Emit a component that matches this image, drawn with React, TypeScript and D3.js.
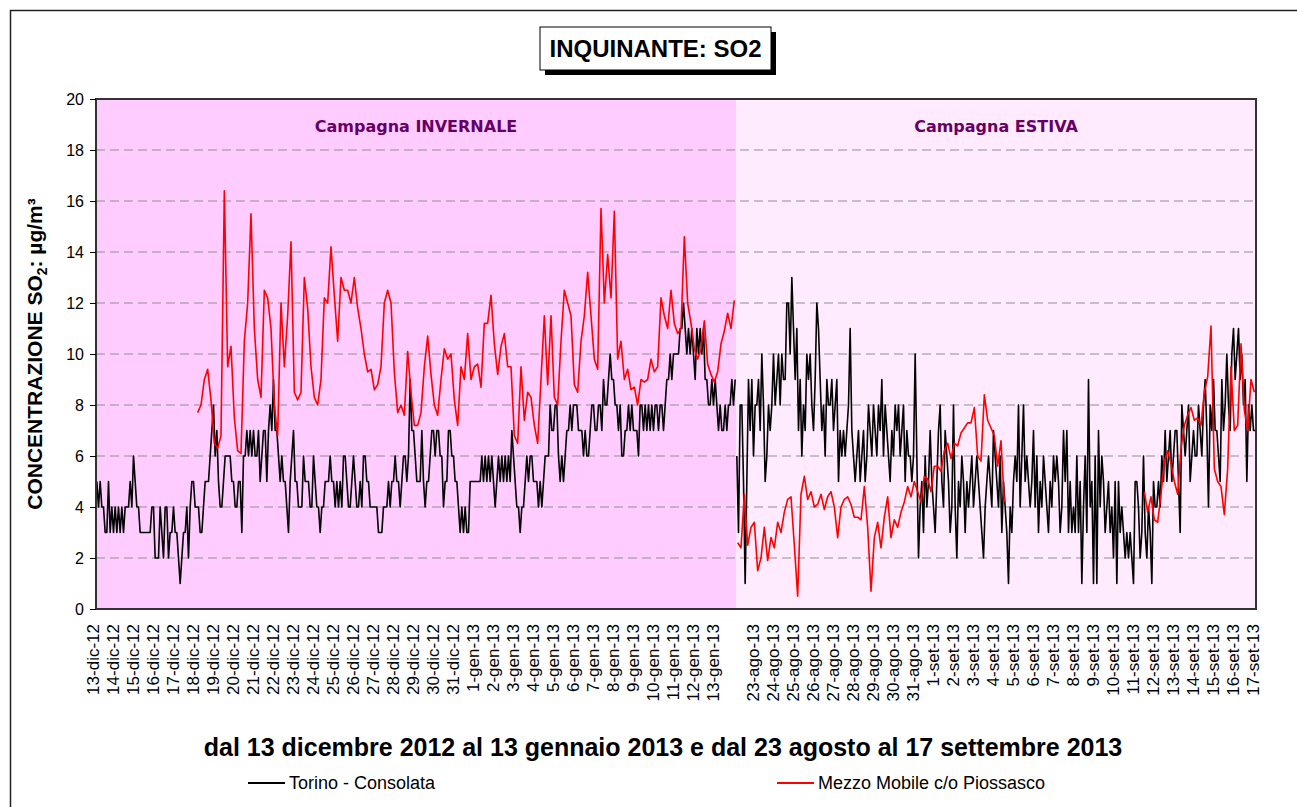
import React, { useEffect, useRef } from "react";
import * as d3 from "d3";

// etichette dei giorni (asse categorie)
const giorniInverno = [
  "13-dic-12", "14-dic-12", "15-dic-12", "16-dic-12", "17-dic-12", "18-dic-12", "19-dic-12",
  "20-dic-12", "21-dic-12", "22-dic-12", "23-dic-12", "24-dic-12", "25-dic-12", "26-dic-12",
  "27-dic-12", "28-dic-12", "29-dic-12", "30-dic-12", "31-dic-12", "1-gen-13", "2-gen-13",
  "3-gen-13", "4-gen-13", "5-gen-13", "6-gen-13", "7-gen-13", "8-gen-13", "9-gen-13",
  "10-gen-13", "11-gen-13", "12-gen-13", "13-gen-13",
];
const giorniEstate = [
  "23-ago-13", "24-ago-13", "25-ago-13", "26-ago-13", "27-ago-13", "28-ago-13", "29-ago-13",
  "30-ago-13", "31-ago-13", "1-set-13", "2-set-13", "3-set-13", "4-set-13", "5-set-13",
  "6-set-13", "7-set-13", "8-set-13", "9-set-13", "10-set-13", "11-set-13", "12-set-13",
  "13-set-13", "14-set-13", "15-set-13", "16-set-13", "17-set-13",
];
const yTicks = [0, 2, 4, 6, 8, 10, 12, 14, 16, 18, 20];

// Torino - Consolata: valori letti ogni 2 ore (12 per giorno)
const torinoInverno = [
  5, 4, 5, 4, 4, 3, 3, 5, 3, 4, 3, 4,
  3, 4, 3, 4, 3, 4, 4, 4, 5, 4, 6, 5,
  4, 4, 3, 3, 3, 3, 3, 3, 3, 4, 4, 2,
  2, 2, 4, 3, 2, 4, 4, 2, 3, 3, 4, 3,
  3, 2, 1, 2, 3, 3, 4, 2, 4, 5, 5, 4,
  4, 4, 3, 3, 4, 5, 5, 5, 6, 7, 8, 6,
  7, 5, 4, 4, 5, 6, 6, 6, 6, 5, 5, 4,
  4, 5, 5, 3, 6, 6, 7, 6, 7, 6, 7, 6,
  6, 7, 5, 6, 7, 7, 5, 7, 8, 7, 9, 7,
  7, 6, 5, 6, 5, 5, 4, 3, 5, 6, 7, 5,
  5, 4, 4, 4, 6, 5, 5, 5, 4, 4, 6, 5,
  4, 4, 3, 4, 4, 5, 5, 5, 6, 5, 5, 4,
  5, 4, 5, 4, 6, 6, 5, 4, 4, 5, 6, 5,
  4, 4, 5, 4, 6, 6, 5, 5, 4, 4, 4, 4,
  4, 3, 3, 3, 4, 4, 4, 5, 4, 5, 5, 6,
  5, 5, 4, 5, 6, 6, 5, 6, 9, 7, 7, 6,
  5, 5, 5, 7, 5, 4, 5, 5, 6, 7, 7, 6,
  7, 7, 6, 6, 4, 5, 5, 7, 7, 6, 6, 5,
  5, 4, 3, 4, 3, 4, 3, 3, 5, 5, 5, 5,
  5, 5, 5, 6, 5, 6, 5, 6, 5, 6, 5, 4,
  5, 6, 5, 6, 5, 6, 5, 6, 5, 7, 6, 5,
  4, 4, 3, 4, 4, 5, 6, 5, 6, 6, 5, 5,
  5, 4, 5, 4, 5, 6, 6, 6, 8, 7, 7, 8,
  8, 6, 5, 6, 5, 6, 7, 7, 8, 7, 8, 8,
  8, 7, 7, 7, 6, 7, 6, 6, 7, 8, 8, 7,
  7, 8, 8, 7, 9, 8, 8, 9, 10, 9, 9, 8,
  8, 7, 8, 6, 6, 7, 7, 8, 7, 8, 7, 7,
  7, 6, 8, 8, 7, 8, 7, 8, 7, 8, 7, 8,
  8, 7, 8, 8, 7, 8, 9, 9, 10, 9, 10, 10,
  10, 10, 11, 11, 12, 11, 10, 11, 10, 11, 10, 9,
  11, 10, 11, 10, 11, 9, 9, 8, 8, 9, 8, 9,
  8, 7, 8, 7, 7, 8, 7, 8, 8, 9, 8, 9,
];
const torinoEstate = [
  6, 3, 8, 8, 5, 1, 5, 9, 7, 9, 6, 8,
  8, 9, 7, 10, 8, 5, 6, 8, 7, 8, 10, 8,
  9, 10, 8, 10, 9, 9, 12, 12, 10, 13, 11, 9,
  11, 7, 9, 6, 8, 7, 10, 9, 10, 8, 7, 9,
  12, 11, 9, 7, 8, 6, 9, 8, 8, 9, 7, 8,
  9, 5, 7, 6, 7, 6, 7, 8, 11, 7, 6, 5,
  6, 7, 5, 6, 7, 5, 6, 8, 7, 6, 8, 7,
  6, 8, 7, 9, 6, 8, 7, 6, 5, 7, 6, 8,
  7, 8, 6, 7, 8, 5, 7, 6, 6, 5, 6, 10,
  6, 2, 4, 5, 3, 6, 4, 5, 7, 5, 4, 3,
  5, 7, 8, 5, 4, 7, 6, 5, 3, 4, 8, 4,
  2, 5, 4, 6, 5, 3, 5, 4, 5, 6, 4, 5,
  6, 5, 4, 3, 2, 4, 5, 6, 5, 4, 7, 6,
  5, 4, 6, 3, 5, 4, 3, 1, 4, 3, 5, 6,
  5, 8, 4, 6, 8, 5, 6, 5, 4, 5, 7, 4,
  6, 3, 5, 4, 6, 5, 4, 3, 5, 4, 6, 5,
  6, 5, 3, 4, 7, 5, 7, 3, 5, 3, 4, 3,
  6, 3, 5, 1, 4, 6, 3, 9, 4, 5, 1, 6,
  1, 7, 4, 6, 5, 3, 4, 5, 3, 4, 2, 5,
  1, 5, 3, 4, 3, 2, 3, 2, 3, 2, 1, 5,
  5, 4, 2, 3, 6, 3, 2, 4, 3, 1, 5, 4,
  4, 5, 4, 6, 5, 7, 5, 6, 7, 5, 6, 7,
  7, 5, 3, 8, 7, 6, 7, 8, 5, 6, 7, 6,
  6, 8, 7, 6, 8, 9, 7, 4, 8, 7, 9, 7,
  7, 6, 5, 9, 7, 8, 10, 8, 7, 10, 11, 9,
  10, 11, 9, 10, 8, 9, 5, 8, 7, 8, 7, 7,
];

// Mezzo Mobile c/o Piossasco: valori letti ogni 4 ore, inizio 18-dic
const piossascoInverno = [
  7.7, 8.0, 9.0, 9.4, 8.2, 6.5,
  6.3, 6.8, 16.4, 9.5, 10.3, 7.5,
  6.2, 6.1, 10.5, 12.0, 15.5, 11.0,
  9.0, 8.3, 12.5, 12.2, 11.0, 8.0,
  6.8, 12.0, 9.5, 11.5, 14.4, 8.5,
  8.2, 8.5, 13.0, 11.8, 9.5, 8.3,
  8.0, 9.0, 12.2, 12.0, 14.2, 12.3,
  10.5, 13.0, 12.5, 12.5, 12.0, 13.0,
  11.8, 11.0, 10.0, 9.3, 9.4, 8.6,
  8.8, 9.5, 12.0, 12.5, 12.0, 9.3,
  7.7, 8.0, 7.6, 10.1, 8.5, 7.2,
  7.2, 7.7, 9.5, 10.7, 9.2, 8.0,
  7.6, 9.0, 10.2, 9.8, 10.0, 8.2,
  7.2, 9.5, 9.0, 10.8, 9.0, 9.5,
  9.6, 8.7, 11.2, 11.2, 12.3, 10.4,
  9.2, 10.3, 10.8, 9.5, 9.5, 6.8,
  6.5, 9.5, 7.4, 8.5, 8.3, 7.2,
  6.5, 9.0, 11.5, 8.8, 11.5, 8.3,
  8.0, 10.5, 12.5, 12.0, 11.5, 8.8,
  8.5, 10.5, 11.5, 13.2, 11.5, 9.8,
  9.4, 15.7, 12.0, 13.9, 12.2, 15.6,
  9.8, 10.5, 9.0, 9.4, 8.6, 8.7,
  8.0, 9.0, 8.9, 9.0, 9.8, 9.3,
  9.5, 12.2, 11.5, 11.0, 12.5, 11.2,
  10.8, 11.0, 14.6, 12.0, 11.2, 10.2,
  9.8, 10.2, 11.3, 9.6, 9.2, 8.9,
  9.3, 10.4, 10.9, 11.6, 11.0, 12.1,
];
const piossascoEstateA = [
  2.6, 2.4, 4.5, 2.5, 3.2, 3.4,
  1.5, 2.0, 3.2, 1.9, 2.8, 2.4,
  3.4, 3.0, 3.8, 4.3, 4.4, 2.5,
  0.5, 4.5, 5.2, 4.3, 4.6, 4.0,
  4.1, 4.5, 3.9, 4.4, 4.6, 4.0,
  2.8, 4.0, 4.3, 4.4, 4.1, 3.6,
  3.6, 3.5, 4.8, 3.2, 0.7, 2.8,
  3.4, 2.4, 3.6, 4.4, 2.8, 3.5,
  3.2, 3.8, 4.2, 4.8, 4.4, 5.0,
  4.6, 4.2, 5.2, 5.1, 4.6, 5.6,
  5.6, 5.4, 6.2, 6.5, 5.9, 6.5,
  6.4, 6.9, 7.1, 7.3, 7.3, 7.9,
  6.0, 5.8, 8.4, 7.4, 7.1, 6.8,
  5.6, 6.6, 4.2,
];
// ripresa l'11-set dopo l'interruzione
const piossascoEstateB = [
  4.6, 3.8, 4.4, 3.5,
  3.4, 4.5, 5.8, 6.2, 5.7, 5.0,
  4.5, 6.3, 7.2, 7.6, 7.9, 7.4,
  7.5, 7.2, 8.5, 9.1, 11.1, 5.5,
  5.0, 4.8, 3.7, 5.5, 9.5, 7.0,
  7.2, 10.4, 7.8, 7.0, 9.0, 8.5,
];

const PASSO_TORINO = 2; // ore tra due letture
const PASSO_PIOSSASCO = 4;
const ORE_INVERNO = giorniInverno.length * 24;
const ORE_TOTALI = ORE_INVERNO + giorniEstate.length * 24;

const font = "'Liberation Sans', Arial, sans-serif";

const App = () => {
  const ref = useRef<SVGSVGElement>(null);

  useEffect(() => {
    const svg = d3.select(ref.current);
    svg.selectAll("*").remove();

    const left = 96;
    const right = 1256;
    const top = 99;
    const bottom = 609;

    const x = d3.scaleLinear().domain([0, ORE_TOTALI]).range([left, right]);
    const y = d3.scaleLinear().domain([0, 20]).range([bottom, top]);

    // cornice esterna
    svg
      .append("rect")
      .attr("x", 10.5)
      .attr("y", 10.5)
      .attr("width", 1310)
      .attr("height", 820)
      .attr("fill", "#fff")
      .attr("stroke", "#222")
      .attr("stroke-width", 1.5);

    // titolo in riquadro con ombra
    const tb = { x: 540, y: 27, w: 231, h: 43 };
    svg
      .append("rect")
      .attr("x", tb.x + 5)
      .attr("y", tb.y + 5)
      .attr("width", tb.w)
      .attr("height", tb.h)
      .attr("fill", "#000");
    svg
      .append("rect")
      .attr("x", tb.x)
      .attr("y", tb.y)
      .attr("width", tb.w)
      .attr("height", tb.h)
      .attr("fill", "#fff")
      .attr("stroke", "#000")
      .attr("stroke-width", 1);
    svg
      .append("text")
      .attr("x", tb.x + tb.w / 2)
      .attr("y", tb.y + 30)
      .attr("text-anchor", "middle")
      .attr("font-family", font)
      .attr("font-weight", "bold")
      .attr("font-size", 24)
      .text("INQUINANTE: SO2");

    // sfondi delle due campagne
    svg
      .append("rect")
      .attr("x", x(0))
      .attr("y", top)
      .attr("width", x(ORE_INVERNO) - x(0))
      .attr("height", bottom - top)
      .attr("fill", "#ffccff");
    svg
      .append("rect")
      .attr("x", x(ORE_INVERNO))
      .attr("y", top)
      .attr("width", x(ORE_TOTALI) - x(ORE_INVERNO))
      .attr("height", bottom - top)
      .attr("fill", "#ffebfd");

    // griglia
    svg
      .append("g")
      .selectAll("line")
      .data(yTicks.filter((t) => t > 0 && t < 20))
      .join("line")
      .attr("x1", left)
      .attr("x2", right)
      .attr("y1", (d) => y(d))
      .attr("y2", (d) => y(d))
      .attr("stroke", "#8f8f8f")
      .attr("stroke-dasharray", "9,5");

    // etichette campagne
    const campagne = [
      { t: "Campagna INVERNALE", a: 0, b: ORE_INVERNO },
      { t: "Campagna ESTIVA", a: ORE_INVERNO, b: ORE_TOTALI },
    ];
    svg
      .append("g")
      .selectAll("text")
      .data(campagne)
      .join("text")
      .attr("x", (d) => (x(d.a) + x(d.b)) / 2)
      .attr("y", 132)
      .attr("text-anchor", "middle")
      .attr("font-family", "'DejaVu Sans', Verdana, sans-serif")
      .attr("font-weight", "bold")
      .attr("font-size", 16)
      .attr("fill", "#660066")
      .text((d) => d.t);

    // serie
    svg
      .append("clipPath")
      .attr("id", "area")
      .append("rect")
      .attr("x", left)
      .attr("y", top)
      .attr("width", right - left)
      .attr("height", bottom - top);

    const punti = (vals: number[], start: number, passo: number) =>
      vals.map((v, i) => [start + i * passo + passo / 2, v] as [number, number]);

    const linea = d3
      .line<[number, number]>()
      .x((d) => x(d[0]))
      .y((d) => y(d[1]));

    const g = svg.append("g").attr("clip-path", "url(#area)");

    const serie = [
      { p: punti(torinoInverno, 0, PASSO_TORINO), c: "#000" },
      { p: punti(torinoEstate, ORE_INVERNO, PASSO_TORINO), c: "#000" },
      { p: punti(piossascoInverno, 5 * 24, PASSO_PIOSSASCO), c: "#ff0000" },
      { p: punti(piossascoEstateA, ORE_INVERNO, PASSO_PIOSSASCO), c: "#ff0000" },
      { p: punti(piossascoEstateB, ORE_INVERNO + 20 * 24 + 8, PASSO_PIOSSASCO), c: "#ff0000" },
    ];
    serie.forEach((s) => {
      g.append("path")
        .attr("d", linea(s.p))
        .attr("fill", "none")
        .attr("stroke", s.c)
        .attr("stroke-width", 1.6)
        .attr("stroke-linejoin", "round");
    });

    // bordo area grafico
    svg
      .append("rect")
      .attr("x", left)
      .attr("y", top)
      .attr("width", right - left)
      .attr("height", bottom - top)
      .attr("fill", "none")
      .attr("stroke", "#333")
      .attr("stroke-width", 2);

    // asse y
    svg
      .append("g")
      .attr("transform", `translate(${left},0)`)
      .call(d3.axisLeft(y).tickValues(yTicks).tickSize(6).tickPadding(6))
      .call((a) => a.select(".domain").remove())
      .call((a) => a.selectAll("line").attr("stroke", "#000"))
      .call((a) =>
        a
          .selectAll("text")
          .attr("font-family", font)
          .attr("font-size", 16)
          .attr("fill", "#000")
      );

    // etichette asse x
    const etichette = [
      ...giorniInverno.map((t, i) => ({ t, h: i * 24 - 3.5 })),
      ...giorniEstate.map((t, i) => ({ t, h: ORE_INVERNO + 20.5 + i * 24 })),
    ];
    svg
      .append("g")
      .selectAll("text")
      .data(etichette)
      .join("text")
      .attr("transform", (d) => `translate(${x(d.h)},624) rotate(-90)`)
      .attr("text-anchor", "end")
      .attr("dy", "0.35em")
      .attr("font-family", font)
      .attr("font-size", 17)
      .text((d) => d.t);

    // titolo asse y
    const yt = svg
      .append("text")
      .attr("transform", `translate(42,${(top + bottom) / 2}) rotate(-90)`)
      .attr("text-anchor", "middle")
      .attr("font-family", font)
      .attr("font-weight", "bold")
      .attr("font-size", 21);
    yt.append("tspan").text("CONCENTRAZIONE SO");
    yt.append("tspan").attr("font-size", 14).attr("dy", 5).text("2");
    yt.append("tspan").attr("dy", -5).text(":  µg/m³");

    // titolo periodo
    svg
      .append("text")
      .attr("x", 663)
      .attr("y", 756)
      .attr("text-anchor", "middle")
      .attr("font-family", font)
      .attr("font-weight", "bold")
      .attr("font-size", 25)
      .text("dal 13 dicembre 2012 al 13 gennaio 2013 e dal 23 agosto al 17 settembre 2013");

    // legenda
    const legenda = [
      { nome: "Torino - Consolata", colore: "#000", x0: 248 },
      { nome: "Mezzo Mobile c/o Piossasco", colore: "#ff0000", x0: 777 },
    ];
    const lg = svg.append("g").selectAll("g").data(legenda).join("g");
    lg.append("line")
      .attr("x1", (d) => d.x0)
      .attr("x2", (d) => d.x0 + 37)
      .attr("y1", 783)
      .attr("y2", 783)
      .attr("stroke", (d) => d.colore)
      .attr("stroke-width", 2);
    lg.append("text")
      .attr("x", (d) => d.x0 + 41)
      .attr("y", 789)
      .attr("font-family", font)
      .attr("font-size", 18)
      .text((d) => d.nome);

    return () => {
      svg.selectAll("*").remove();
    };
  }, []);

  return (
    <svg
      ref={ref}
      width={1297}
      height={807}
      style={{ position: "absolute", left: 0, top: 0, background: "#fff" }}
    />
  );
};

export default App;
